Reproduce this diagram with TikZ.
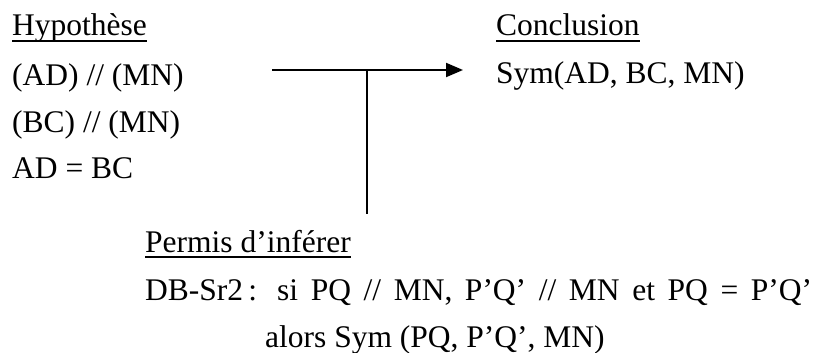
\documentclass[tikz,border=0pt]{standalone}
\usepackage{fontspec}
\setmainfont{Liberation Serif}
\usetikzlibrary{arrows.meta}
\tikzset{
  txt/.style={anchor=base west, inner sep=0pt, font=\fontsize{31.5}{38}\selectfont},
  ulin/.style={line width=1.6pt},
  conn/.style={line width=2pt},
}
\begin{document}
\begin{tikzpicture}[x=1pt,y=-1pt]
\useasboundingbox (0,0) rectangle (814,353);
% hypothesis
\node[txt] (hyp) at (12,36) {Hypothèse};
\node[txt] (h1) at (12,85) {(AD) // (MN)};
\node[txt] (h2) at (12,132) {(BC) // (MN)};
\node[txt] (h3) at (12,178) {AD = BC};
% conclusion
\node[txt] (con) at (496,36) {Conclusion};
\node[txt] (c1) at (496,84) {Sym(AD, BC, MN)};
% permis
\node[txt] (per) at (145,252) {Permis d’inférer};
\node[txt] (p1) at (145,300) {\makebox[667pt][s]{DB-Sr2\,: si PQ // MN, P’Q’ // MN et PQ = P’Q’}};
\node[txt] (p2) at (265,347) {alors Sym (PQ, P’Q’, MN)};
% underlines
\draw[ulin] ([yshift=-5pt]hyp.base west) -- ([yshift=-5pt]hyp.base east);
\draw[ulin] ([yshift=-5pt]con.base west) -- ([yshift=-5pt]con.base east);
\draw[ulin] ([yshift=-5pt]per.base west) -- ([yshift=-5pt]per.base east);
% connectors
\coordinate (a0) at (272,70);
\coordinate (a1) at (463,70);
\coordinate (t0) at (367,70);
\coordinate (t1) at (367,214);
\draw[conn,-{Triangle[length=17pt,width=14pt]}] (a0) -- (a1);
\draw[conn] (t0) -- (t1);
\end{tikzpicture}
\end{document}
